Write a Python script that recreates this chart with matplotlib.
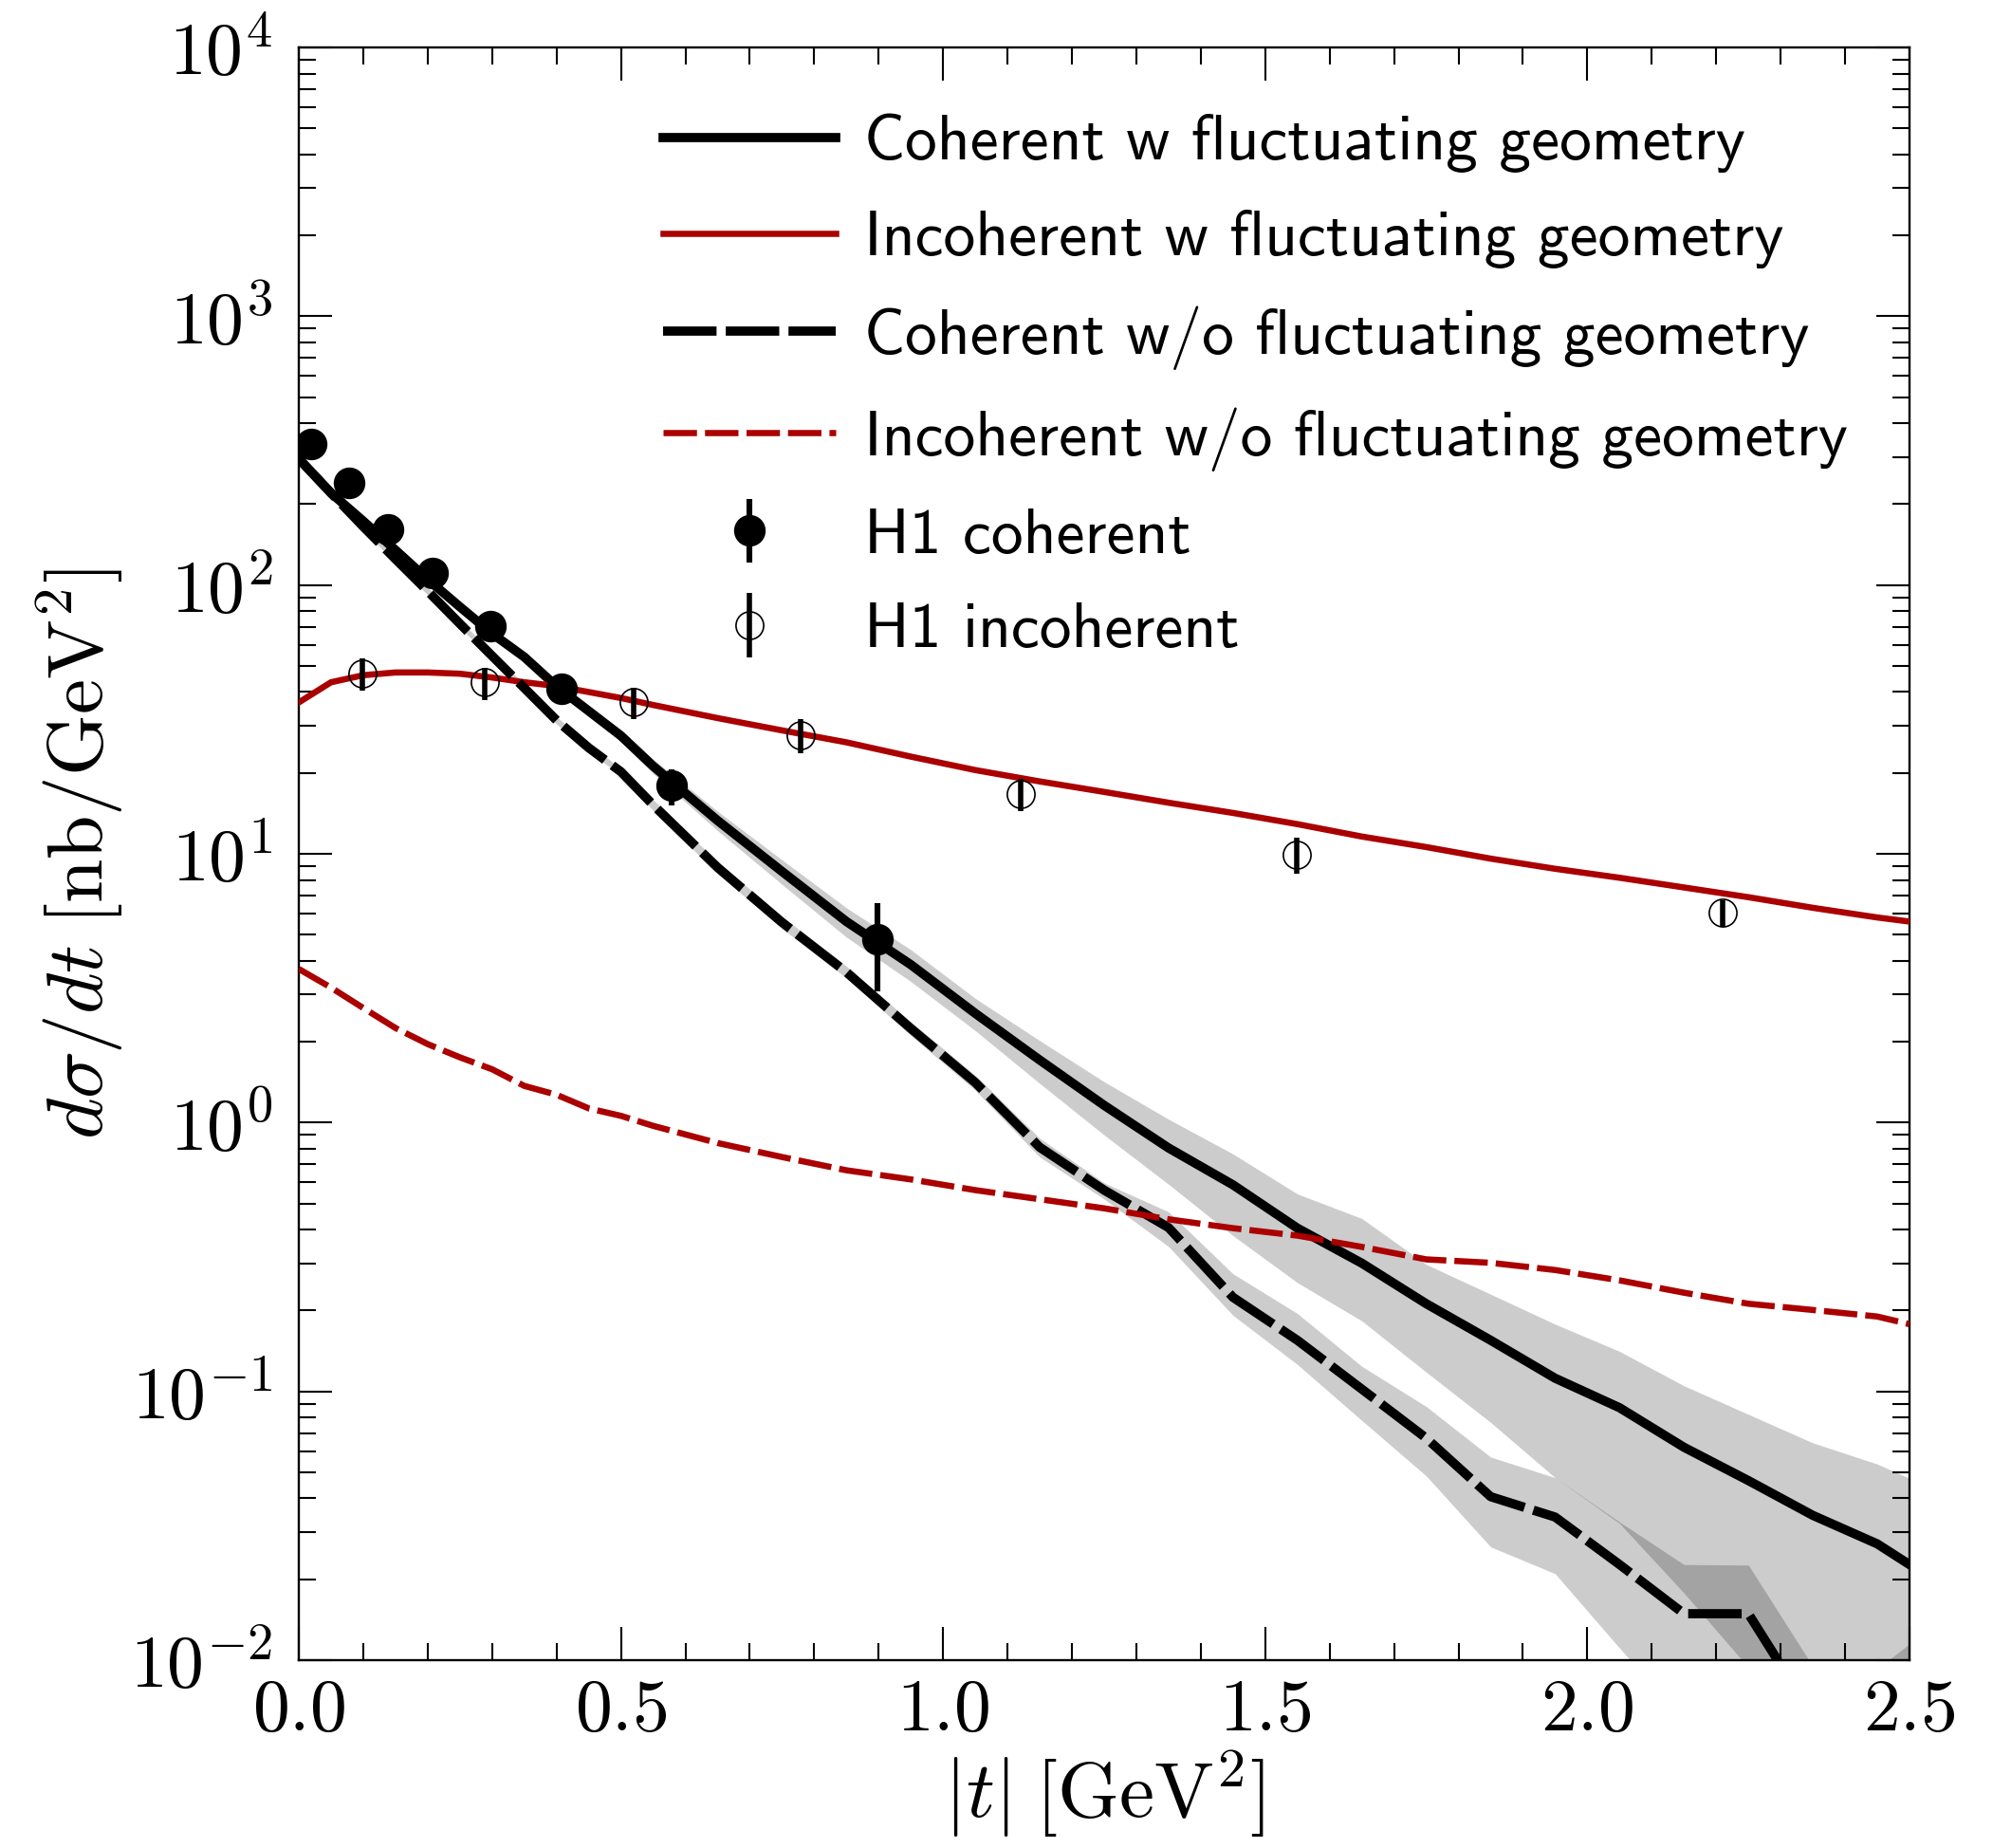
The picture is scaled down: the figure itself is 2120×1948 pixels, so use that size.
import matplotlib
matplotlib.use("Agg")
import matplotlib.pyplot as plt
import matplotlib.ticker as ticker
import numpy as np

plt.rcParams.update({
    "mathtext.fontset": "cm",
    "font.family": "serif",
    "font.serif": ["cmr10", "DejaVu Serif"],
    "axes.formatter.use_mathtext": True,
    "font.size": 28,
    "axes.linewidth": 0.85,
})

# |t| grid of the model curves (GeV^2)
t = [0.0, 0.05, 0.10, 0.15, 0.20, 0.25, 0.30, 0.35, 0.40, 0.45, 0.50,
     0.55, 0.65, 0.75, 0.85, 0.95, 1.05, 1.15, 1.25, 1.35, 1.45,
     1.55, 1.65, 1.75, 1.85, 1.95, 2.05, 2.15, 2.25, 2.35, 2.45, 2.50]

# coherent, with fluctuating geometry (+ band)
coh_fluct = [295, 220, 173, 135, 105, 83, 66, 54, 42, 34, 27.5,
             21.2, 13.3, 8.6, 5.6, 3.87, 2.55, 1.71, 1.16, 0.805, 0.587,
             0.405, 0.30, 0.212, 0.155, 0.112, 0.087, 0.062, 0.0466, 0.0346, 0.0271, 0.0227]
coh_fluct_hi = [304, 227, 178, 139, 108, 85.5, 68, 55.6, 43.3, 35.4, 28.9,
                22.5, 14.4, 9.5, 6.3, 4.4, 2.9, 2.02, 1.42, 1.03, 0.765,
                0.543, 0.44, 0.297, 0.230, 0.178, 0.141, 0.105, 0.0822, 0.0644, 0.0537, 0.0475]
coh_fluct_lo = [286, 213, 168, 131, 102, 80.5, 64, 52.4, 40.7, 32.6, 26.1,
                19.9, 12.2, 7.7, 4.9, 3.35, 2.2, 1.40, 0.90, 0.59, 0.380,
                0.254, 0.183, 0.118, 0.0767, 0.0478, 0.0323, 0.0178, 0.0094, 0.003, 0.002, 0.002]

# coherent, without fluctuating geometry (+ band)
coh_nofl = [295, 220, 165, 125, 95, 71.8, 54.5, 41.4, 31.4, 24.8, 20.2,
            15.2, 8.9, 5.56, 3.63, 2.24, 1.41, 0.81, 0.561, 0.407, 0.224,
            0.155, 0.102, 0.067, 0.0406, 0.0341, 0.0227, 0.0149, 0.0149, 0.0062, 0.002, 0.0015]
coh_nofl_hi = [304, 227, 170, 129, 98, 74, 56.2, 42.7, 32.4, 25.6, 20.8,
               15.9, 9.35, 5.85, 3.82, 2.37, 1.5, 0.875, 0.597, 0.466, 0.274,
               0.195, 0.124, 0.0879, 0.057, 0.0478, 0.0327, 0.0227, 0.0226, 0.0095, 0.0093, 0.0115]
coh_nofl_lo = [286, 213, 160, 121, 92, 69.6, 52.8, 40.1, 30.4, 24.0, 19.6,
               14.5, 8.45, 5.28, 3.45, 2.11, 1.32, 0.745, 0.52, 0.346, 0.192,
               0.126, 0.078, 0.0485, 0.0264, 0.021, 0.0111, 0.006, 0.001, 0.001, 0.001, 0.001]

# incoherent curves
inc_fluct = [36.6, 43.5, 46.2, 47.3, 47.3, 46.8, 45.3, 43.5, 42.1, 40.0, 38.0,
             35.8, 32.0, 28.8, 26.0, 23.0, 20.5, 18.6, 17.0, 15.5, 14.2,
             12.9, 11.6, 10.6, 9.6, 8.8, 8.15, 7.5, 6.9, 6.3, 5.8, 5.6]
inc_nofl = [3.73, 3.18, 2.67, 2.25, 1.96, 1.75, 1.58, 1.37, 1.27, 1.13, 1.06,
            0.973, 0.84, 0.745, 0.665, 0.615, 0.561, 0.519, 0.48, 0.437, 0.405,
            0.380, 0.345, 0.310, 0.301, 0.283, 0.259, 0.233, 0.212, 0.201, 0.190, 0.178]

# H1 data
h1_coh_t = [0.019, 0.078, 0.139, 0.208, 0.297, 0.408, 0.579, 0.898]
h1_coh = [335, 240, 161, 111, 70.5, 41.3, 17.9, 4.82]
h1_coh_err = [10, 8, 6, 5, 3.5, 2.5, 2.7, 1.75]

h1_inc_t = [0.098, 0.288, 0.519, 0.779, 1.120, 1.549, 2.210]
h1_inc = [47.0, 43.4, 36.6, 27.7, 16.7, 9.96, 6.03]
h1_inc_err = [6.5, 6.0, 5.0, 4.0, 2.3, 1.5, 0.67]

red = '#aa0000'

fig = plt.figure(figsize=(10.6, 9.74), dpi=200)
ax = fig.add_axes([0.1486, 0.1016, 0.8009, 0.8727])

ax.fill_between(t, coh_fluct_lo, coh_fluct_hi, color='k', alpha=0.2, lw=0, zorder=1)
ax.fill_between(t, coh_nofl_lo, coh_nofl_hi, color='k', alpha=0.2, lw=0, zorder=1)

ax.plot(t, coh_fluct, color='k', lw=3.5, zorder=3,
        label='Coherent w fluctuating geometry')
ax.plot(t, inc_fluct, color=red, lw=2.35, zorder=3,
        label='Incoherent w fluctuating geometry')
ax.plot(t, coh_nofl, color='k', lw=3.5, dashes=(5.8, 1.0), zorder=3,
        label='Coherent w/o fluctuating geometry')
ax.plot(t, inc_nofl, color=red, lw=2.35, dashes=(5.4, 1.3), zorder=3,
        label='Incoherent w/o fluctuating geometry')

ax.errorbar(h1_coh_t, h1_coh, yerr=h1_coh_err, fmt='o', color='k', ms=11,
            elinewidth=2.2, capsize=0, zorder=4, label='H1 coherent')
ax.errorbar(h1_inc_t, h1_inc, yerr=h1_inc_err, fmt='o', mfc='none', mec='k',
            mew=0.6, ms=10.5, ecolor='k', elinewidth=2.0, capsize=0, zorder=4,
            label='H1 incoherent')

ax.set_yscale('log')
ax.set_xlim(0, 2.5)
ax.set_ylim(1e-2, 1e4)

ax.xaxis.set_major_locator(ticker.MultipleLocator(0.5))
ax.xaxis.set_minor_locator(ticker.MultipleLocator(0.1))
ax.xaxis.set_major_formatter(ticker.FormatStrFormatter(r'$%.1f$'))
ax.yaxis.set_major_locator(ticker.LogLocator(base=10, numticks=10))
ax.yaxis.set_minor_locator(ticker.LogLocator(base=10, subs=np.arange(2, 10), numticks=20))
ax.yaxis.set_minor_formatter(ticker.NullFormatter())
ax.yaxis.set_major_formatter(ticker.FuncFormatter(lambda v, p: r'$10^{%d}$' % round(np.log10(v))))

ax.tick_params(which='both', direction='in', top=True, right=True, width=0.75)
ax.tick_params(which='major', length=12.6)
ax.tick_params(which='minor', length=6.5)
ax.tick_params(axis='x', which='major', pad=7, labelsize=28)
ax.tick_params(axis='y', which='major', pad=10, labelsize=28)

ax.set_xlabel(r'$|t|\;[\mathrm{GeV}^2]$', fontsize=30)
ax.set_ylabel(r'$d\sigma/dt\;[\mathrm{nb}/\mathrm{GeV}^2]$', fontsize=30)
ax.xaxis.set_label_coords(0.5, -0.055)
ax.yaxis.set_label_coords(-0.108, 0.5)

ax.legend(loc='upper left', bbox_to_anchor=(0.226, 0.959), frameon=False,
          prop={'family': 'cmss10', 'size': 24.3}, handlelength=2.7,
          handletextpad=0.45, labelspacing=0.58, borderpad=0, borderaxespad=0,
          numpoints=1)

fig.savefig('out.png', dpi=200)
